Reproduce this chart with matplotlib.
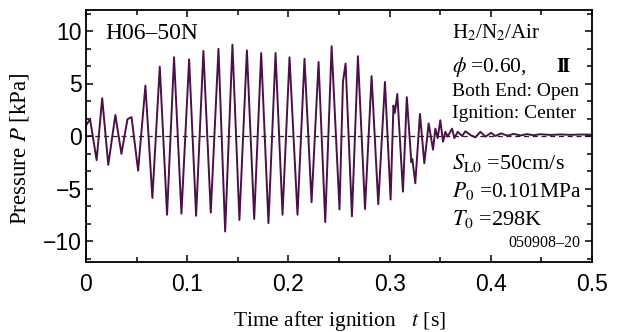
import numpy as np
import matplotlib
matplotlib.use("Agg")
import matplotlib.pyplot as plt
from matplotlib.ticker import MultipleLocator, FixedLocator, FuncFormatter

# pressure trace: extrema of the oscillation (time [s], pressure [kPa])
time_s = [
    0.0, 0.0, 0.004, 0.0105, 0.016, 0.022, 0.029, 0.035, 0.041, 0.045,
    0.0515, 0.0587, 0.0656, 0.0729, 0.0801, 0.087, 0.0943, 0.1019, 0.1088, 0.116,
    0.1233, 0.1309, 0.1375, 0.1447, 0.1516, 0.159, 0.1662, 0.1731, 0.1803, 0.1873,
    0.1942, 0.2011, 0.209, 0.2159, 0.2229, 0.2298, 0.2364, 0.2427, 0.2505, 0.2539,
    0.2565, 0.2628, 0.2687, 0.2757, 0.2822, 0.2888, 0.2954, 0.301, 0.3038, 0.3052,
    0.3076, 0.3132, 0.317, 0.3215, 0.3225, 0.3254, 0.330, 0.3343, 0.3386, 0.3429,
    0.3452, 0.3475, 0.3501, 0.3528, 0.3551, 0.3574, 0.3617, 0.364, 0.3673, 0.3716,
    0.3749, 0.3798, 0.3848, 0.3897, 0.3947, 0.4003, 0.4045, 0.4102, 0.4164, 0.4227,
    0.4293, 0.4359, 0.4421, 0.449, 0.459, 0.4688, 0.4787, 0.4886, 0.5,
]
pressure_kpa = [
    -13.0, 1.0, 1.6, -2.3, 3.6, -2.75, 2.0, -1.7, 1.6, 1.8,
    -3.3, 4.8, -5.9, 6.6, -7.5, 7.5, -7.4, 7.3, -7.6, 8.1,
    -7.3, 8.3, -9.1, 8.7, -8.0, 8.15, -7.9, 7.9, -8.3, 7.9,
    -7.5, 7.5, -7.5, 7.35, -6.3, 7.05, -8.2, 8.55, -7.0, 5.15,
    6.9, -7.65, 7.6, -6.95, 5.7, -6.5, 5.15, -6.05, 2.9, 2.2,
    4.0, -5.3, 3.7, -2.5, -2.2, -4.5, 2.1, -2.6, 1.2, -1.3,
    0.7, -0.2, 1.5, -0.55, 0.4, -0.05, 0.7, -0.2, 0.4, 0.0,
    0.45, 0.1, -0.13, 0.4, -0.06, 0.3, 0.0, 0.25, 0.03, 0.2,
    0.05, 0.18, 0.07, 0.17, 0.1, 0.15, 0.11, 0.14, 0.13,
]
x_ticks = [0, 0.1, 0.2, 0.3, 0.4, 0.5]
y_ticks = [-10, -5, 0, 5, 10]

plt.rcParams['mathtext.fontset'] = 'stix'
serif = ['Liberation Serif', 'DejaVu Serif']

fig = plt.figure(figsize=(6.19, 3.32), dpi=100)
ax = fig.add_axes([86 / 619, 1 - 262 / 332, 506 / 619, 252 / 332])

ax.axhline(0, color='#222222', lw=0.9, ls=(0, (4, 3)), zorder=1)
ax.plot(time_s, pressure_kpa, color='#4a1048', lw=1.4, zorder=2,
        solid_joinstyle='round')

ax.set_xlim(0, 0.5)
ax.set_ylim(-12, 12)
ax.xaxis.set_major_locator(FixedLocator(x_ticks))
ax.xaxis.set_minor_locator(MultipleLocator(0.05))
ax.yaxis.set_major_locator(FixedLocator(y_ticks))
ax.yaxis.set_minor_locator(MultipleLocator(5 / 3))
ax.xaxis.set_major_formatter(FuncFormatter(lambda v, p: '0' if v == 0 else f'{v:g}'))
ax.yaxis.set_major_formatter(FuncFormatter(lambda v, p: f'{v:g}'.replace('-', '\u2212')))

for s in ax.spines.values():
    s.set_linewidth(1.3)
ax.tick_params(which='both', direction='in', top=True, right=True, width=1.1)
ax.tick_params(which='major', length=5)
ax.tick_params(which='minor', length=3.5)
ax.tick_params(axis='x', pad=8)
ax.tick_params(axis='y', pad=3)
for lab in ax.get_xticklabels() + ax.get_yticklabels():
    lab.set_family('Liberation Sans')
    lab.set_fontsize(16.5)

ax.set_xlabel('Time after ignition   $t$ [s]', family=serif, fontsize=15.5, labelpad=9)
ax.set_ylabel('Pressure $P$ [kPa]', family=serif, fontsize=16.5)
ax.yaxis.set_label_coords(-0.109, 0.45)

tr = ax.transAxes
ax.text(0.0375, 0.885, 'H06\u201350N', transform=tr, family=serif, fontsize=17, va='baseline')
ax.text(0.7227, 0.888, 'H$_2$/N$_2$/Air', transform=tr, family=serif, fontsize=15, va='baseline')
ax.text(0.7227, 0.754, '$\\phi$ =0.60,', transform=tr, family=serif, fontsize=15.5, va='baseline')
ax.text(0.929, 0.754, '$\\mathbf{I\\!I}$', transform=tr, family=serif, fontsize=15, va='baseline')
ax.text(0.7227, 0.659, 'Both End: Open', transform=tr, family=serif, fontsize=14, va='baseline')
ax.text(0.7227, 0.570, 'Ignition: Center', transform=tr, family=serif, fontsize=14, va='baseline')
ax.text(0.7227, 0.369, '$S_{\\rm L0}$ =50cm/s', transform=tr, family=serif, fontsize=16, va='baseline')
ax.text(0.7227, 0.259, '$P_0$ =0.101MPa', transform=tr, family=serif, fontsize=15.5, va='baseline')
ax.text(0.7227, 0.147, '$T_0$ =298K', transform=tr, family=serif, fontsize=16, va='baseline')
ax.text(0.9777, 0.058, '050908\u201320', transform=tr, family=serif, fontsize=11.5, va='baseline', ha='right')

fig.savefig('out.png', dpi=100)
